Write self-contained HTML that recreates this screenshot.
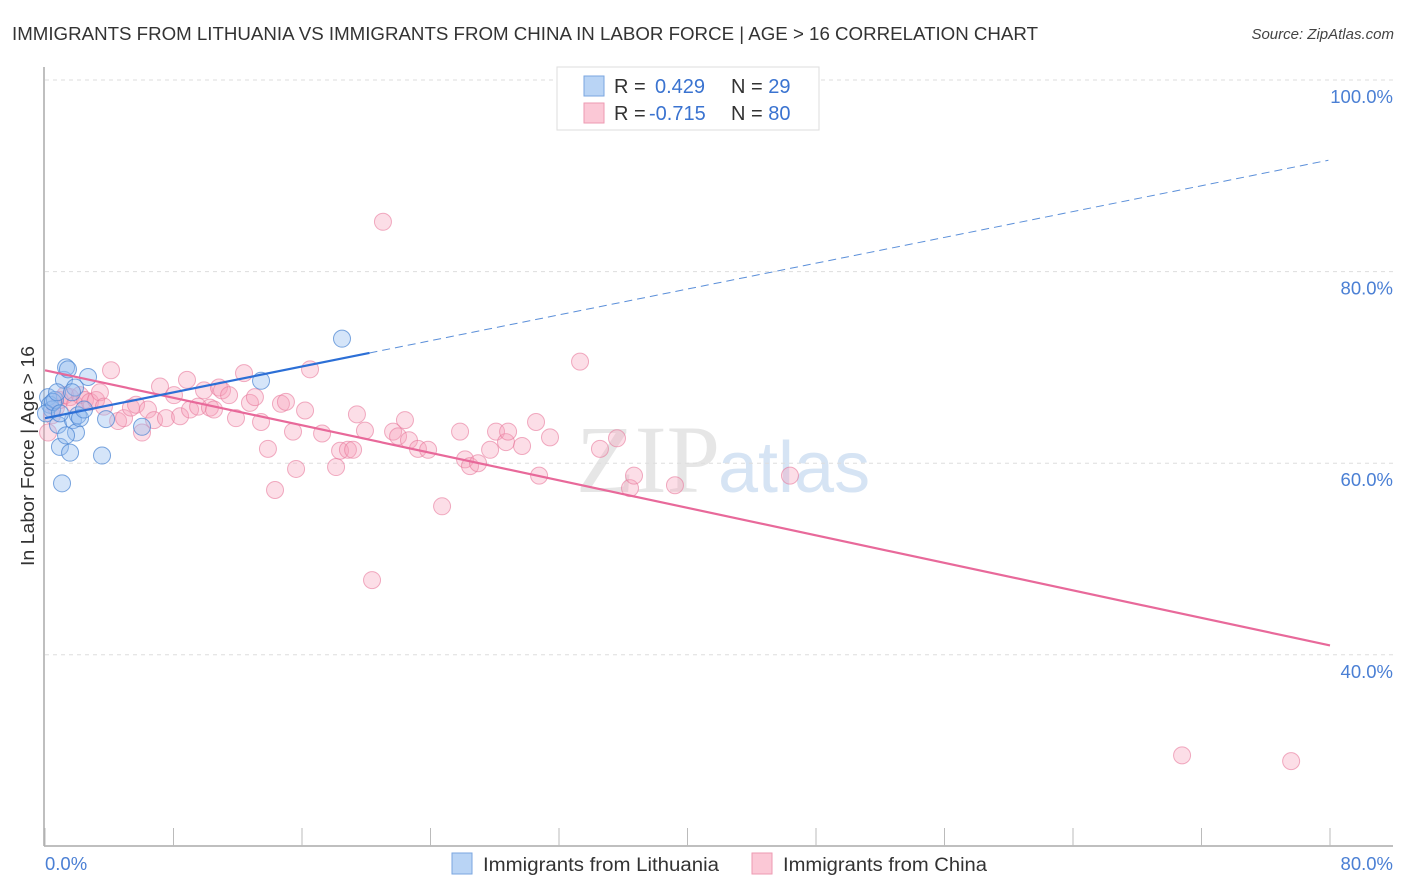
<!DOCTYPE html>
<html><head><meta charset="utf-8"><style>
body{margin:0;background:#fff;font-family:"Liberation Sans",sans-serif}
svg{display:block}
</style></head><body>
<svg id="chart" width="1406" height="892" viewBox="0 0 1406 892">
<text x="12" y="40" font-size="18.5" fill="#333" textLength="1026" lengthAdjust="spacingAndGlyphs">IMMIGRANTS FROM LITHUANIA VS IMMIGRANTS FROM CHINA IN LABOR FORCE | AGE &gt; 16 CORRELATION CHART</text>
<text x="1394" y="39" font-size="15" font-style="italic" fill="#444" text-anchor="end">Source: ZipAtlas.com</text>
<text x="720" y="492" font-size="96" fill="#e6e6e6" text-anchor="end" font-family="Liberation Serif,serif">ZIP</text>
<text x="718" y="492" font-size="72" fill="#d6e4f4">atlas</text>
<g id="grid"></g>
<g id="axes"></g>
<g id="pts"></g>
<g id="lines"></g>
<text transform="translate(34,456) rotate(-90)" font-size="18.5" fill="#333" text-anchor="middle" textLength="220" lengthAdjust="spacingAndGlyphs">In Labor Force | Age &gt; 16</text>
<text x="45" y="870" font-size="18.5" fill="#4a7fd4">0.0%</text>
<text x="1393" y="870" font-size="18.5" fill="#4a7fd4" text-anchor="end">80.0%</text>
<g>
<rect x="557" y="67" width="262" height="63" fill="#fff" stroke="#ddd"/>
<rect x="584" y="76" width="20" height="20" fill="#b9d4f5" stroke="#7aa6e0"/>
<rect x="584" y="103" width="20" height="20" fill="#fbc8d6" stroke="#ee9ab2"/>
<text x="614" y="93" font-size="20" fill="#333">R = <tspan fill="#3a73d0" x="655">0.429</tspan><tspan x="731" fill="#333">N = </tspan><tspan fill="#3a73d0">29</tspan></text>
<text x="614" y="120" font-size="20" fill="#333">R = <tspan fill="#3a73d0" x="649">-0.715</tspan><tspan x="731" fill="#333">N = </tspan><tspan fill="#3a73d0">80</tspan></text>
</g>
<g>
<rect x="452" y="853" width="20" height="21" fill="#b9d4f5" stroke="#7aa6e0"/>
<text x="483" y="871" font-size="19" fill="#333" textLength="236" lengthAdjust="spacingAndGlyphs">Immigrants from Lithuania</text>
<rect x="752" y="853" width="20" height="21" fill="#fbc8d6" stroke="#ee9ab2"/>
<text x="783" y="871" font-size="19" fill="#333" textLength="204" lengthAdjust="spacingAndGlyphs">Immigrants from China</text>
</g>
</svg>
<script>
const yTicks=[100,80,60,40];
const xTickVals=[0,8,16,24,32,40,48,56,64,72,80];
const lithX=[0.19,0.31,0.44,0.62,0.81,0.93,1.06,1.18,1.31,1.43,1.56,1.74,1.87,1.93,2.05,2.18,2.43,2.68,3.55,3.80,6.04,13.45,18.49,0.06,0.50,0.75,1.31,1.68,0.93];
const lithY=[66.9,66.1,65.6,66.6,64.0,61.7,57.9,68.7,70.0,69.8,61.1,64.5,67.9,63.2,65.0,64.7,65.6,69.0,60.8,64.6,63.8,68.6,73.0,65.2,66.4,67.4,62.9,67.4,65.2];
const chinaX=[0.19,0.44,0.68,0.93,1.25,1.56,1.87,2.18,2.49,2.80,3.18,3.42,3.67,4.11,4.55,4.92,5.35,5.67,6.04,6.41,6.79,7.16,7.53,8.03,8.41,8.84,9.03,9.53,9.90,10.27,10.52,10.83,11.02,11.46,11.89,12.39,12.76,13.07,13.45,13.88,14.32,14.69,15.00,15.44,15.63,16.19,16.50,17.25,18.12,18.37,18.86,19.18,19.42,19.92,20.36,21.04,21.67,21.98,22.41,22.66,23.22,23.85,24.72,25.84,26.15,26.46,26.96,27.71,28.08,28.70,28.83,29.70,30.57,30.76,31.44,33.31,34.55,35.61,36.42,36.67,39.22,46.38,70.79,77.58];
const chinaY=[63.2,65.0,65.8,66.6,67.1,66.9,66.1,67.1,66.6,66.4,66.6,67.4,65.9,69.7,64.4,64.7,65.8,66.1,63.2,65.6,64.5,68.0,64.7,67.1,64.9,68.7,65.6,65.9,67.6,65.8,65.6,67.9,67.6,67.1,64.7,69.4,66.3,66.9,64.3,61.5,57.2,66.2,66.4,63.3,59.4,65.5,69.8,63.1,59.6,61.3,61.4,61.4,65.1,63.4,47.8,85.2,63.3,62.8,64.5,62.4,61.5,61.4,55.5,63.3,60.4,59.7,60.0,61.4,63.3,62.2,63.3,61.8,64.3,58.7,62.7,70.6,61.5,62.6,57.4,58.7,57.7,58.7,29.5,28.9];
const lithFit=[64.7,0.337];   // intercept, slope
const chinaFit=[69.7,-0.359];
const ns="http://www.w3.org/2000/svg";
function sx(v){return 45+v*(1285/80);}
function sy(v){return 80+(100-v)*9.58;}
function mk(tag,attrs,parent){const e=document.createElementNS(ns,tag);for(const k in attrs)e.setAttribute(k,attrs[k]);parent.appendChild(e);return e;}
const grid=document.getElementById('grid'),axes=document.getElementById('axes'),pts=document.getElementById('pts'),lines=document.getElementById('lines');
yTicks.forEach(t=>{
 const l=mk('line',{x1:45,x2:1393,y1:sy(t),y2:sy(t),stroke:'#ddd','stroke-dasharray':'4,4'},grid);
 
 
 const tx=mk('text',{x:1393,y:sy(t)+23,'font-size':18.5,fill:'#4a7fd4','text-anchor':'end'},grid);
 tx.textContent=t.toFixed(1)+'%';
 
 
});
const ya=mk('line',{x1:44,x2:44,y1:67,y2:846,stroke:'#aaa','stroke-width':1.5},axes);


const xa=mk('line',{x1:44,x2:1393,y1:846,y2:846,stroke:'#aaa','stroke-width':1.5},axes);


xTickVals.forEach(t=>{
 const l=mk('line',{x1:sx(t),x2:sx(t),y1:828,y2:846,stroke:'#bbb'},axes);
 
 
});
chinaX.forEach((x,i)=>{
 const c=mk('circle',{cx:sx(x),cy:sy(chinaY[i]),r:8.5,fill:'rgba(246,160,186,0.35)',stroke:'rgba(232,120,155,0.6)','stroke-width':1},pts);
 
 
});
lithX.forEach((x,i)=>{
 const c=mk('circle',{cx:sx(x),cy:sy(lithY[i]),r:8.5,fill:'rgba(150,190,240,0.4)',stroke:'rgba(70,130,210,0.7)','stroke-width':1},pts);
 
 
});
function fy(f,x){return f[0]+f[1]*x;}
const cl=mk('line',{x1:sx(0),y1:sy(fy(chinaFit,0)),x2:sx(80),y2:sy(fy(chinaFit,80)),stroke:'#e8699a','stroke-width':2.2},lines);


const bl=mk('line',{x1:sx(0),y1:sy(fy(lithFit,0)),x2:sx(20.2),y2:sy(fy(lithFit,20.2)),stroke:'#2c6fd6','stroke-width':2.2},lines);


const bd=mk('line',{x1:sx(20.2),y1:sy(fy(lithFit,20.2)),x2:sx(79.9),y2:sy(fy(lithFit,79.9)),stroke:'#5b8fd9','stroke-width':1,'stroke-dasharray':'8,5'},lines);


</script>
</body></html>
